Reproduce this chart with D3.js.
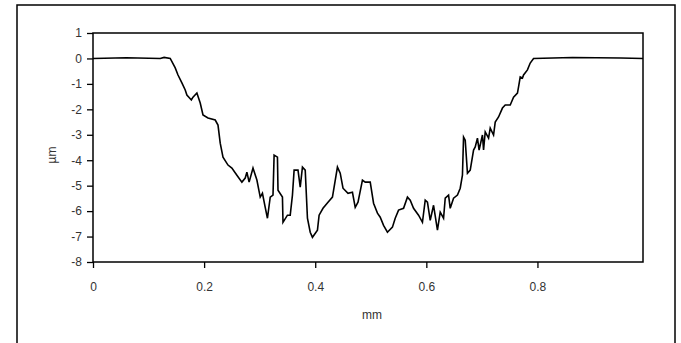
<!DOCTYPE html>
<html>
<head>
<meta charset="utf-8">
<script src="https://cdn.jsdelivr.net/npm/d3@7"></script>
<style>
  body { margin: 0; background: #fff; }
  svg text { font-family: "Liberation Sans", Arial, sans-serif; }
</style>
</head>
<body>
<div id="chart"></div>
<script>
// config var and add svg
var WD = 681, HT = 343
var margin = { left: 93, right: 38, top: 33, bottom: 81 }
var width = WD - margin.left - margin.right
var height = HT - margin.top - margin.bottom

// profile data (mm, µm)
var pos_mm = [0, 0.06, 0.121, 0.128, 0.139, 0.148, 0.153, 0.160, 0.166, 0.169, 0.177, 0.180, 0.187,
  0.193, 0.198, 0.207, 0.220, 0.225, 0.229, 0.234, 0.243, 0.250, 0.259, 0.268, 0.274, 0.277,
  0.281, 0.288, 0.295, 0.301, 0.305, 0.310, 0.314, 0.319, 0.324, 0.326, 0.332, 0.333, 0.341,
  0.342, 0.350, 0.355, 0.359, 0.362, 0.369, 0.373, 0.377, 0.382, 0.386, 0.391, 0.395, 0.404,
  0.407, 0.414, 0.423, 0.431, 0.440, 0.445, 0.450, 0.459, 0.467, 0.472, 0.477, 0.485, 0.490,
  0.499, 0.505, 0.512, 0.517, 0.523, 0.530, 0.539, 0.544, 0.550, 0.559, 0.566, 0.571, 0.577,
  0.586, 0.593, 0.598, 0.602, 0.607, 0.613, 0.620, 0.625, 0.631, 0.634, 0.640, 0.643, 0.649,
  0.656, 0.661, 0.665, 0.667, 0.670, 0.674, 0.679, 0.685, 0.688, 0.692, 0.695, 0.701, 0.703,
  0.706, 0.712, 0.715, 0.721, 0.724, 0.730, 0.737, 0.742, 0.751, 0.757, 0.764, 0.766, 0.769,
  0.773, 0.775, 0.782, 0.787, 0.793, 0.863, 0.95, 0.99]
var depth_um = [0, 0.03, 0, 0.04, 0, -0.37, -0.65, -0.96, -1.24, -1.44, -1.63, -1.52, -1.36,
  -1.75, -2.22, -2.34, -2.42, -2.62, -3.33, -3.88, -4.19, -4.31, -4.59, -4.86, -4.70, -4.47,
  -4.86, -4.31, -4.78, -5.45, -5.30, -5.85, -6.28, -5.45, -5.37, -3.80, -3.88, -5.18, -5.45,
  -6.44, -6.16, -6.16, -5.37, -4.39, -4.39, -5.06, -4.27, -4.39, -6.28, -6.83, -7.03, -6.75,
  -6.16, -5.89, -5.65, -5.45, -4.27, -4.51, -5.10, -5.30, -5.26, -5.85, -5.65, -4.78, -4.86,
  -4.86, -5.69, -6.08, -6.24, -6.56, -6.83, -6.63, -6.28, -5.96, -5.89, -5.45, -5.57, -5.89,
  -6.16, -6.44, -5.57, -5.65, -6.36, -5.77, -6.75, -6.04, -6.28, -5.49, -5.37, -5.89, -5.49,
  -5.37, -5.10, -4.59, -3.09, -3.21, -4.51, -4.39, -3.60, -3.48, -3.13, -3.60, -3.01, -3.60,
  -2.89, -3.13, -2.74, -3.01, -2.50, -2.30, -1.95, -1.83, -1.83, -1.52, -1.36, -1.12, -0.73,
  -0.77, -0.65, -0.45, -0.18, 0, 0.04, 0.02, 0]

var x_ticks = [0, 0.2, 0.4, 0.6, 0.8]
var y_ticks = [1, 0, -1, -2, -3, -4, -5, -6, -7, -8]
var x_label = "mm"
var y_label = "µm"

var svg = d3.select("#chart")
  .append("svg")
    .attr("width", WD)
    .attr("height", HT)

// outer chart frame
svg.append("rect")
  .attr("x", 17).attr("y", 5)
  .attr("width", 658).attr("height", 350)
  .attr("fill", "none")
  .attr("stroke", "#000")
  .attr("stroke-width", 1.5)

var g = svg.append("g")
  .attr("transform", "translate(" + margin.left + "," + margin.top + ")")

var x = d3.scaleLinear().domain([0, 0.99]).range([0, width])
var y = d3.scaleLinear().domain([-8, 1]).range([height, 0])

// plain hyphen for negatives, like the original
var xAxis = g.append("g")
  .attr("transform", "translate(0," + height + ")")
  .call(d3.axisBottom(x).tickValues(x_ticks).tickSize(6).tickPadding(14)
    .tickFormat(function(d){ return String(d); }))
var yAxis = g.append("g")
  .call(d3.axisLeft(y).tickValues(y_ticks).tickSize(6).tickPadding(5)
    .tickFormat(function(d){ return String(d); }))

;[xAxis, yAxis].forEach(function(a){
  a.select(".domain").remove()
  a.selectAll("line").attr("stroke", "#000").attr("stroke-width", 1.3)
  a.selectAll("text").attr("fill", "#333").style("font-size", "12px")
})

// plot frame
g.append("rect")
  .attr("width", width).attr("height", height)
  .attr("fill", "none")
  .attr("stroke", "#000")
  .attr("stroke-width", 1.5)

// profile line
var line = d3.line()
  .x(function(d){ return x(d[0]); })
  .y(function(d){ return y(d[1]); })

g.append("path")
  .datum(d3.zip(pos_mm, depth_um))
  .attr("d", line)
  .attr("fill", "none")
  .attr("stroke", "#000")
  .attr("stroke-width", 1.6)
  .attr("stroke-linejoin", "miter")

// axis labels
svg.append("text")
  .attr("x", margin.left + width / 2 + 4)
  .attr("y", 319)
  .attr("text-anchor", "middle")
  .attr("fill", "#333")
  .style("font-size", "12px")
  .text(x_label)

svg.append("text")
  .attr("transform", "translate(56,155) rotate(-90)")
  .attr("text-anchor", "middle")
  .attr("fill", "#333")
  .style("font-size", "12px")
  .text(y_label)
</script>
</body>
</html>
